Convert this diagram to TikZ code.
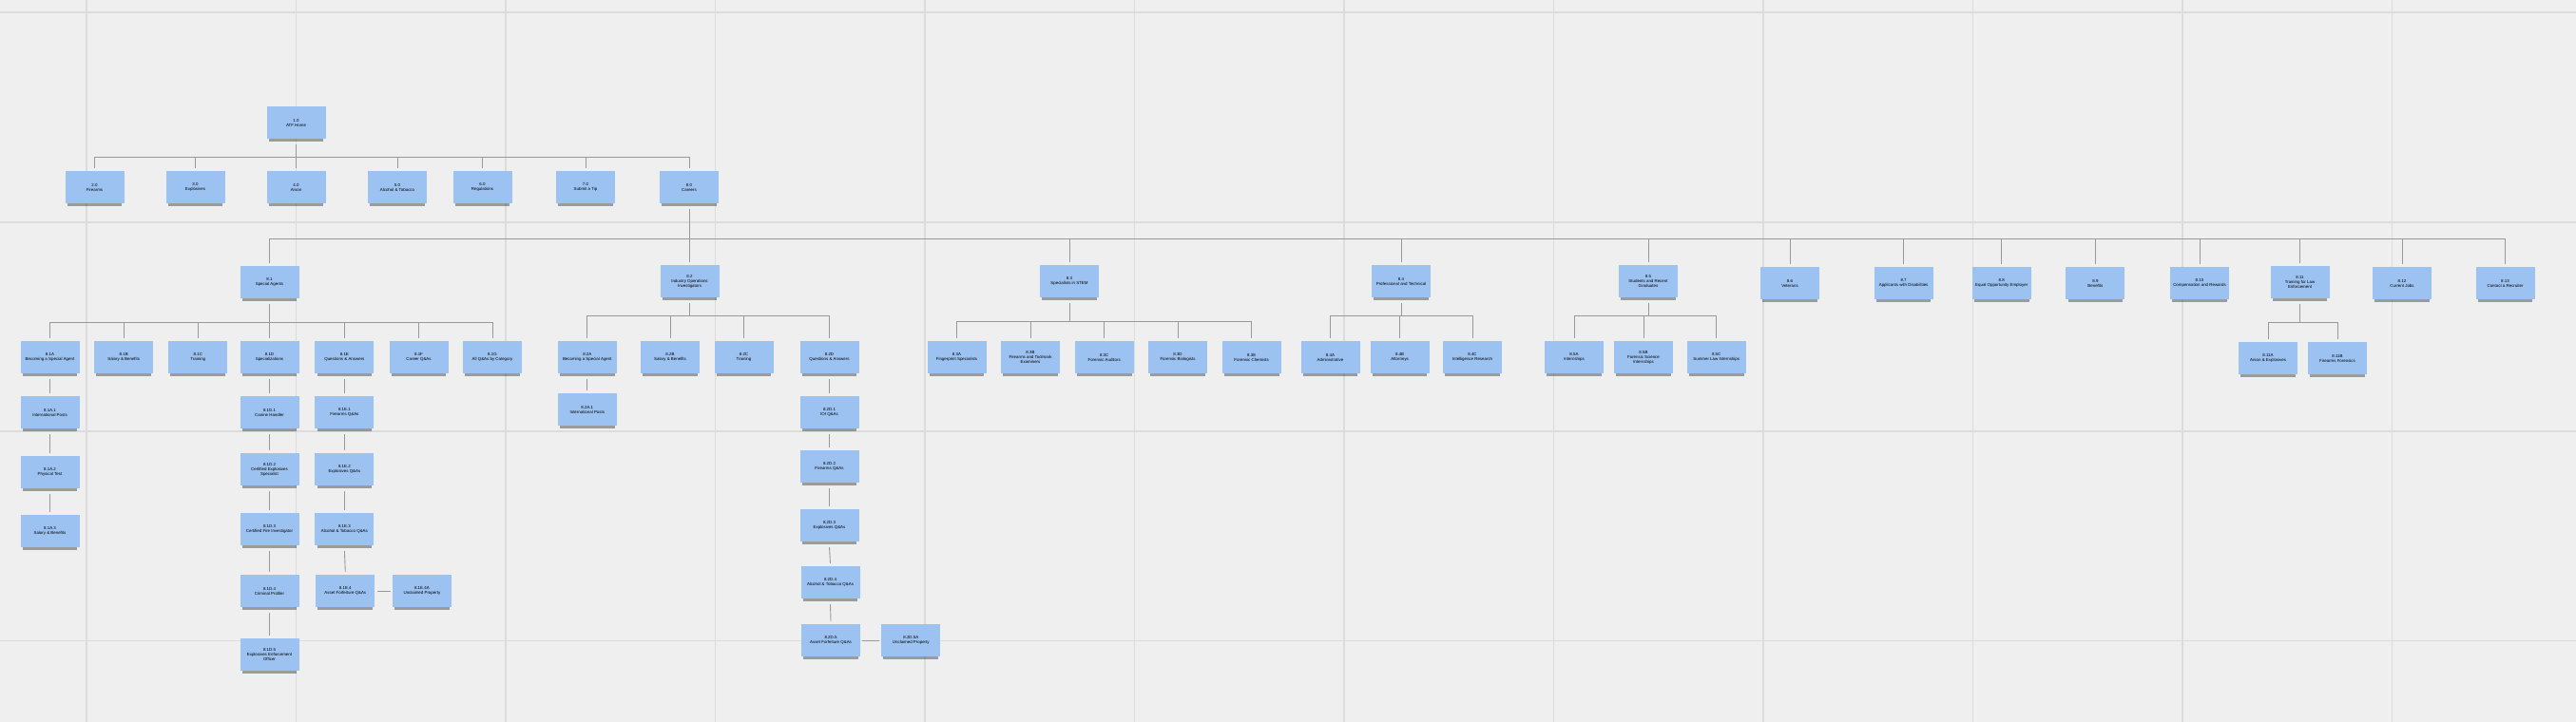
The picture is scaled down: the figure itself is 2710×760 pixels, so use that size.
\documentclass[tikz,border=0pt]{standalone}
\usepackage{fontspec}
\setmainfont{Liberation Sans}
\usetikzlibrary{shadows}
\definecolor{bgc}{HTML}{EFEFEF}
\definecolor{gridc}{HTML}{DCDCDC}
\definecolor{cardblue}{HTML}{9CC2F1}
\definecolor{connc}{HTML}{999999}
\tikzset{
  card/.style={rectangle, fill=cardblue, minimum width=62pt, minimum height=34pt,
    inner sep=1pt, align=center, font=\fontsize{4.4}{5}\selectfont, text=black,
    drop shadow={shadow xshift=0pt, shadow yshift=-4pt, shadow scale=0.93, opacity=0.35, fill=black}},
  conn/.style={draw=connc, line width=0.9pt},
  gridline/.style={draw=gridc, line width=1.6pt}
}
\newcommand\mybranch[3]{\foreach \cc in {#3}{\draw[conn] ([yshift=-6pt]#1.south) -- (#1.south |- 0,#2) -| ([yshift=3pt]\cc.north);}}
\newcommand\mychain[1]{\foreach \pa/\pb in {#1}{\draw[conn] ([yshift=-6pt]\pa.south) -- ([yshift=3pt]\pb.north);}}
\begin{document}
\begin{tikzpicture}[x=1pt,y=-1pt]
\fill[bgc] (0,0) rectangle (2710,760);
\useasboundingbox (0,0) rectangle (2710,760);
% grid
\foreach \k in {0,...,11}{\draw[gridline] ({91+220.5*\k},0) -- ({91+220.5*\k},760);}
\foreach \yy in {13.3,233.7,454,674.5}{\draw[gridline] (0,\yy) -- (2710,\yy);}
% level 1-2
\node[card] (n1) at (311.5,129) {1.0\\ATF Home};
\node[card] (n2) at (99.5,197) {2.0\\Firearms};
\node[card] (n3) at (205.5,197) {3.0\\Explosives};
\node[card] (n4) at (311.5,197) {4.0\\Arson};
\node[card] (n5) at (418,197) {5.0\\Alcohol \& Tobacco};
\node[card] (n6) at (507.5,197) {6.0\\Regulations};
\node[card] (n7) at (616,197) {7.0\\Submit a Tip};
\node[card] (n8) at (725,197) {8.0\\Careers};
% level 3
\node[card] (n81) at (283.5,297) {8.1\\Special Agents};
\node[card] (n82) at (725.5,296) {8.2\\Industry Operations\\Investigators};
\node[card] (n83) at (1125,296) {8.3\\Specialists in STEM};
\node[card] (n84) at (1474,296) {8.4\\Professional and Technical};
\node[card] (n85) at (1734,296) {8.5\\Students and Recent\\Graduates};
\node[card] (n86) at (1883,298) {8.6\\Veterans};
\node[card] (n87) at (2002.6,298) {8.7\\Applicants with Disabilities};
\node[card] (n88) at (2105.7,298) {8.8\\Equal Opportunity Employer};
\node[card] (n89) at (2204.4,298) {8.9\\Benefits};
\node[card] (n810) at (2314,298) {8.10\\Compensation and Rewards};
\node[card] (n811) at (2419.5,297) {8.11\\Training for Law\\Enforcement};
\node[card] (n812) at (2527,298) {8.12\\Current Jobs};
\node[card] (n813) at (2635.5,298) {8.13\\Contact a Recruiter};
% level 4
\node[card] (n81A) at (52.5,376) {8.1A\\Becoming a Special Agent};
\node[card] (n81B) at (130.2,376) {8.1B\\Salary \& Benefits};
\node[card] (n81C) at (208.3,376) {8.1C\\Training};
\node[card] (n81D) at (283.5,376) {8.1D\\Specializations};
\node[card] (n81E) at (362.4,376) {8.1E\\Questions \& Answers};
\node[card] (n81F) at (440.5,376) {8.1F\\Career Q\&As};
\node[card] (n81G) at (518,376) {8.1G\\All Q\&As by Category};
\node[card] (n82A) at (617.8,376) {8.2A\\Becoming a Special Agent};
\node[card] (n82B) at (705,376) {8.2B\\Salary \& Benefits};
\node[card] (n82C) at (782.5,376) {8.2C\\Training};
\node[card] (n82D) at (872.5,376) {8.2D\\Questions \& Answers};
\node[card] (n83A) at (1006.5,376) {8.3A\\Fingerprint Specialists};
\node[card] (n83B) at (1084,376) {8.3B\\Firearms and Toolmark\\Examiners};
\node[card] (n83C) at (1161.7,376) {8.3C\\Forensic Auditors};
\node[card] (n83D) at (1239,376) {8.3D\\Forensic Biologists};
\node[card] (n83E) at (1316.7,376) {8.3E\\Forensic Chemists};
\node[card] (n84A) at (1399.5,376) {8.4A\\Administrative};
\node[card] (n84B) at (1472.6,376) {8.4B\\Attorneys};
\node[card] (n84C) at (1549,376) {8.4C\\Intelligence Research};
\node[card] (n85A) at (1656,376) {8.5A\\Internships};
\node[card] (n85B) at (1729,376) {8.5B\\Forensic Science\\Internships};
\node[card] (n85C) at (1805.7,376) {8.5C\\Summer Law Internships};
\node[card] (n811A) at (2386,377) {8.11A\\Arson \& Explosives};
\node[card] (n811B) at (2459,377) {8.11B\\Firearms Forensics};
% deeper levels
\node[card] (n81A1) at (52.5,434) {8.1A.1\\International Posts};
\node[card] (n81A2) at (52.5,497) {8.1A.2\\Physical Test};
\node[card] (n81A3) at (52.5,559) {8.1A.3\\Salary \& Benefits};
\node[card] (n81D1) at (283.5,434) {8.1D.1\\Canine Handler};
\node[card] (n81D2) at (283.5,494) {8.1D.2\\Certified Explosives\\Specialist};
\node[card] (n81D3) at (283.5,557) {8.1D.3\\Certified Fire Investigator};
\node[card] (n81D4) at (283.5,622) {8.1D.4\\Criminal Profiler};
\node[card] (n81D5) at (283.5,689) {8.1D.5\\Explosives Enforcement\\Officer};
\node[card] (n81E1) at (362.4,434) {8.1E.1\\Firearms Q\&As};
\node[card] (n81E2) at (362.4,494) {8.1E.2\\Explosives Q\&As};
\node[card] (n81E3) at (362.4,557) {8.1E.3\\Alcohol \& Tobacco Q\&As};
\node[card] (n81E4) at (363.3,622) {8.1E.4\\Asset Forfeiture Q\&As};
\node[card] (n81E4A) at (443.9,622) {8.1E.4A\\Unclaimed Property};
\node[card] (n82A1) at (617.8,431) {8.2A.1\\International Posts};
\node[card] (n82D1) at (872.5,434) {8.2D.1\\IOI Q\&As};
\node[card] (n82D2) at (872.5,491) {8.2D.2\\Firearms Q\&As};
\node[card] (n82D3) at (872.5,553) {8.2D.3\\Explosives Q\&As};
\node[card] (n82D4) at (873.5,613) {8.2D.4\\Alcohol \& Tobacco Q\&As};
\node[card] (n82D5) at (874,674) {8.2D.5\\Asset Forfeiture Q\&As};
\node[card] (n82D5A) at (958.3,674) {8.2D.5A\\Unclaimed Property};
% connectors
\mybranch{n1}{165}{n2,n3,n4,n5,n6,n7,n8}
\mybranch{n8}{251}{n81,n82,n83,n84,n85,n86,n87,n88,n89,n810,n811,n812,n813}
\mybranch{n81}{339}{n81A,n81B,n81C,n81D,n81E,n81F,n81G}
\mybranch{n82}{332}{n82A,n82B,n82C,n82D}
\mybranch{n83}{338}{n83A,n83B,n83C,n83D,n83E}
\mybranch{n84}{332}{n84A,n84B,n84C}
\mybranch{n85}{332}{n85A,n85B,n85C}
\mybranch{n811}{339}{n811A,n811B}
\mychain{n81A/n81A1,n81A1/n81A2,n81A2/n81A3,n81D/n81D1,n81D1/n81D2,n81D2/n81D3,n81D3/n81D4,n81D4/n81D5,n81E/n81E1,n81E1/n81E2,n81E2/n81E3,n81E3/n81E4,n82A/n82A1,n82D/n82D1,n82D1/n82D2,n82D2/n82D3,n82D3/n82D4,n82D4/n82D5}
\draw[conn] ([xshift=2pt]n81E4.east) -- ([xshift=-2pt]n81E4A.west);
\draw[conn] ([xshift=2pt]n82D5.east) -- ([xshift=-2pt]n82D5A.west);
\end{tikzpicture}
\end{document}
